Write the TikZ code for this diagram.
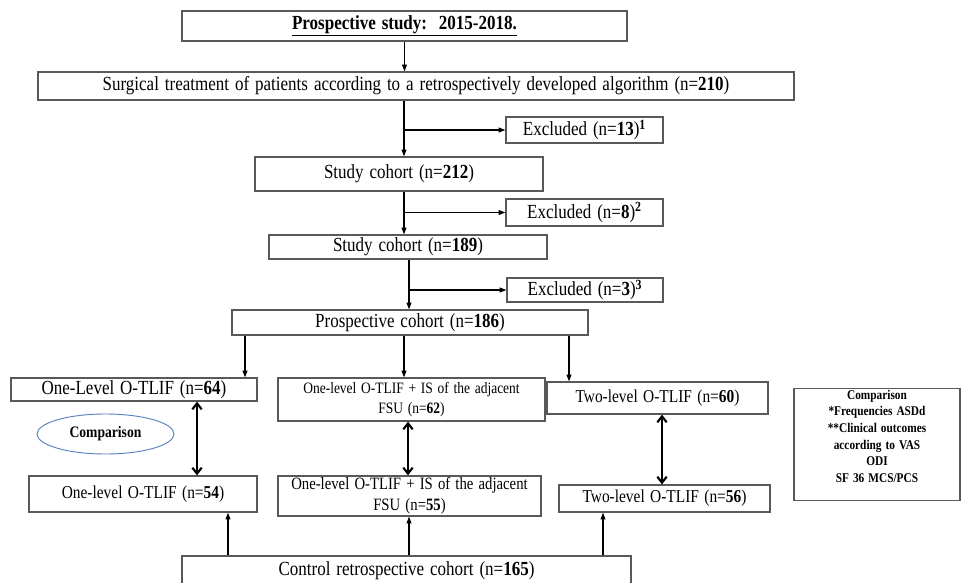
\documentclass[tikz,border=0pt]{standalone}
\usepackage{fontspec}
\setmainfont{Liberation Serif}[FakeStretch=0.85,WordSpace=1.4]
\usetikzlibrary{arrows.meta,shapes.geometric}
\definecolor{FCBorder}{HTML}{595959}
\definecolor{FCEllipse}{HTML}{5B7FC0}
\newcommand{\fsbig}{\fontsize{15}{17}\selectfont}
\newcommand{\fsmid}{\fontsize{13.6}{16}\selectfont}
\newcommand{\fssmall}{\fontsize{11.9}{15}\selectfont}

\begin{document}
\begin{tikzpicture}[x=0.75pt,y=-0.75pt,
  box/.style={draw=FCBorder,line width=0.9pt,fill=white,inner sep=1pt,align=center,font=\fsbig},
  sz/.style 2 args={minimum width=#1*0.75pt,minimum height=#2*0.75pt},
  arr/.style={-{Triangle[length=5pt,width=3.6pt]},line width=0.9pt},
  dbl/.style={{Straight Barb[length=4.5pt,width=7pt]}-{Straight Barb[length=4.5pt,width=7pt]},line width=1.6pt},
  note/.style={draw=FCEllipse,line width=0.7pt,ellipse,inner sep=0pt,font=\fontsize{12}{14}\selectfont\bfseries}]
\path[use as bounding box] (0,0) rectangle (967,582);
\fill[white] (0,0) rectangle (967,582);
\node[box,sz={445}{30},font=\fsbig\bfseries] (top) at (404.5,26) {\underline{Prospective study:\ \ 2015-2018.}};
\node[box,sz={756}{28}] (surg) at (416,86) {Surgical treatment of patients according to a retrospectively developed algorithm (n=\textbf{210})};
\node[box,sz={157}{26}] (ex1) at (584.5,130) {Excluded (n=\textbf{13})\textsuperscript{\textbf{1}}};
\node[box,sz={288}{34}] (st212) at (399,174) {Study cohort (n=\textbf{212})};
\node[box,sz={157}{27}] (ex2) at (584.5,212.5) {Excluded (n=\textbf{8})\textsuperscript{\textbf{2}}};
\node[box,sz={278}{24}] (st189) at (408,247) {Study cohort (n=\textbf{189})};
\node[box,sz={156}{24}] (ex3) at (585,290) {Excluded (n=\textbf{3})\textsuperscript{\textbf{3}}};
\node[box,sz={356}{25}] (pc) at (410,322.5) {Prospective cohort (n=\textbf{186})};
\node[box,sz={246}{23}] (a64) at (134,389.5) {One-Level O-TLIF (n=\textbf{64})};
\node[box,sz={267}{43},font=\fssmall] (a62) at (411.5,399.5) {One-level O-TLIF + IS of the adjacent\\FSU (n=\textbf{62})};
\node[box,sz={221}{32},font=\fsmid] (a60) at (657.5,398) {Two-level O-TLIF (n=\textbf{60})};
\node[note,sz={137}{40}] (ell) at (105.5,434) {Comparison};
\node[box,sz={228}{36},font=\fsmid] (b54) at (143,494) {One-level O-TLIF (n=\textbf{54})};
\node[box,sz={263}{40},font=\fontsize{13}{16}\selectfont] (b55) at (409.5,496) {One-level O-TLIF + IS of the adjacent\\FSU (n=\textbf{55})};
\node[box,sz={211}{27},font=\fsmid] (b56) at (664.5,498.5) {Two-level O-TLIF (n=\textbf{56})};
\node[box,sz={449}{30}] (ctrl) at (406.5,571) {Control retrospective cohort (n=\textbf{165})};
\node[box,sz={166}{109},font=\fontsize{10}{12.5}\selectfont\bfseries] (cmp) at (877,444.5) {Comparison\\*Frequencies ASDd\\**Clinical outcomes\\according to VAS\\ODI\\SF 36 MCS/PCS\\\mbox{}};
\coordinate (t1) at (404,130);
\coordinate (t2) at (404,212.5);
\coordinate (t3) at (409,290);
\coordinate (d1) at (245,0);
\coordinate (d2) at (404,0);
\coordinate (d3) at (569,0);
\coordinate (v1) at (197,0);
\coordinate (v2) at (408,0);
\coordinate (v3) at (662,0);
\coordinate (u1) at (228,0);
\coordinate (u2) at (409,0);
\coordinate (u3) at (603,0);
\draw[arr] (top.south) -- (surg.north -| top.south);
\draw[arr] (surg.south -| t1) -- (st212.north -| t1);
\draw[arr] (t1) -- (ex1.west);
\draw[arr] (st212.south -| t2) -- (st189.north -| t2);
\draw[arr] (t2) -- (ex2.west);
\draw[arr] (st189.south -| t3) -- (pc.north -| t3);
\draw[arr] (t3) -- (ex3.west);
\draw[arr] (pc.south -| d1) -- (a64.north -| d1);
\draw[arr] (pc.south -| d2) -- (a62.north -| d2);
\draw[arr] (pc.south -| d3) -- (a60.north -| d3);
\draw[dbl] (a64.south -| v1) -- (b54.north -| v1);
\draw[dbl] (a62.south -| v2) -- (b55.north -| v2);
\draw[dbl] (a60.south -| v3) -- (b56.north -| v3);
\draw[arr] (ctrl.north -| u1) -- (b54.south -| u1);
\draw[arr] (ctrl.north -| u2) -- (b55.south -| u2);
\draw[arr] (ctrl.north -| u3) -- (b56.south -| u3);
\end{tikzpicture}
\end{document}
